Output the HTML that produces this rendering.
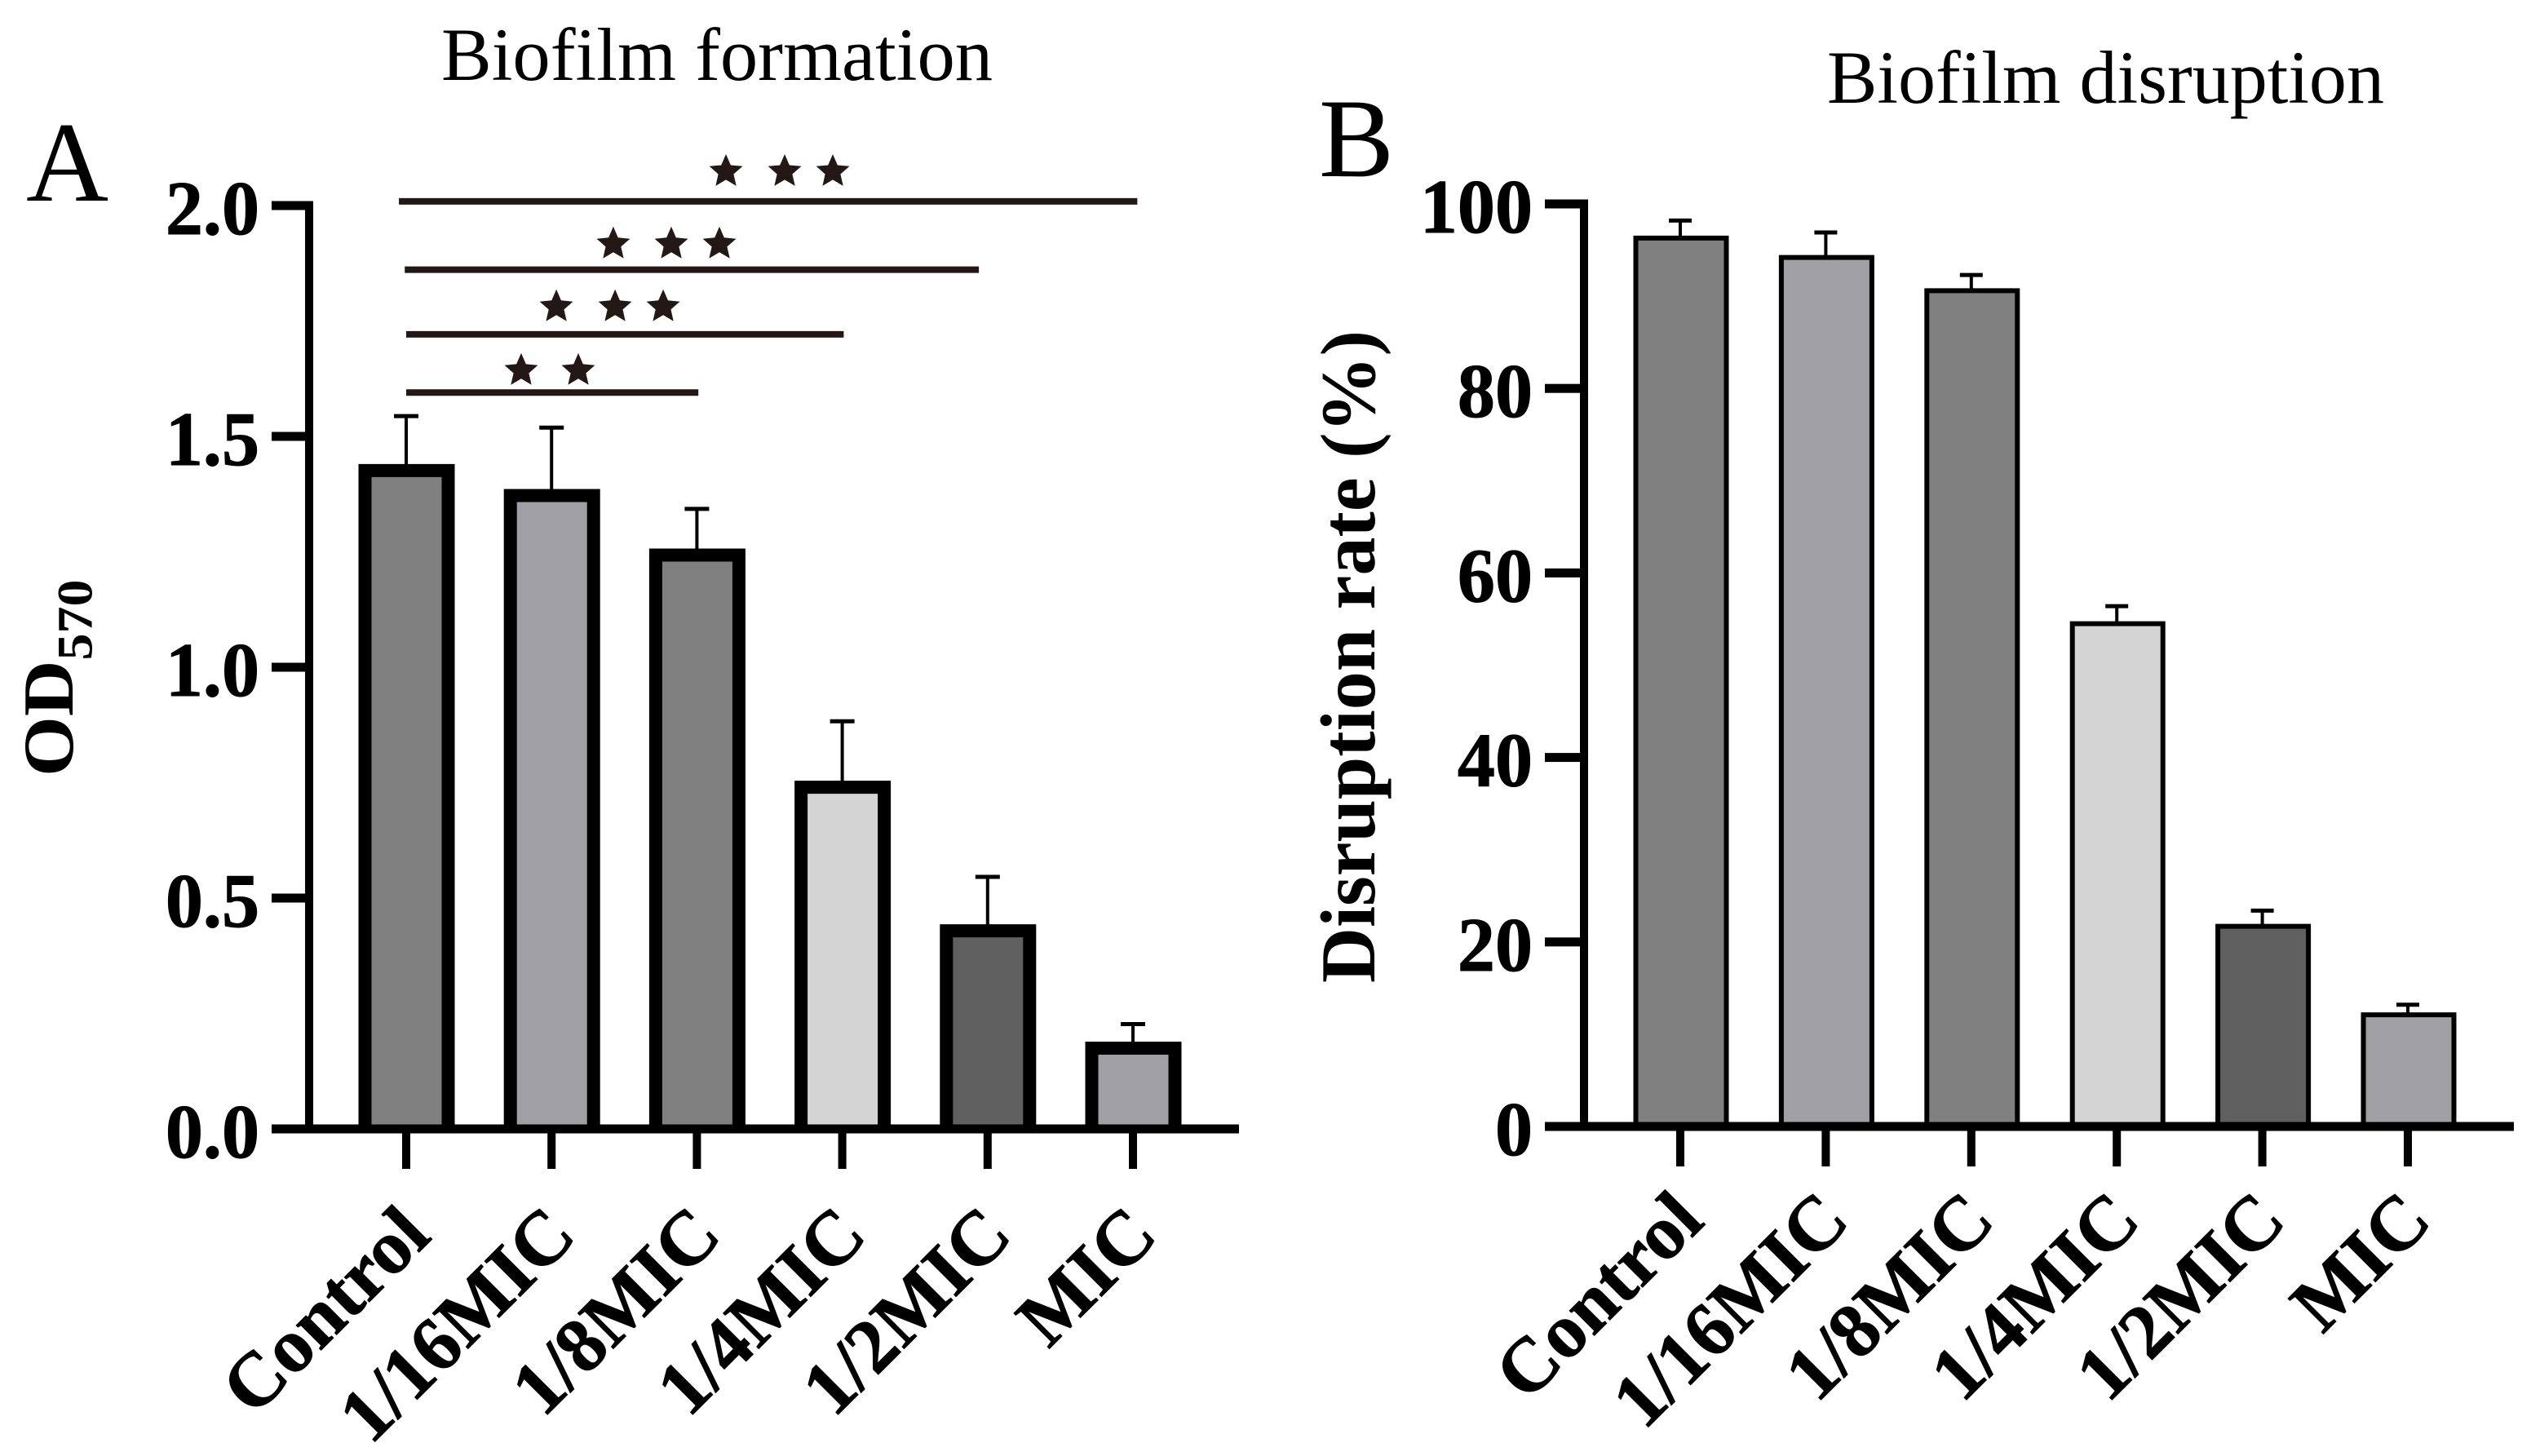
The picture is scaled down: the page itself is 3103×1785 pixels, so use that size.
<!DOCTYPE html>
<html lang="en">
<head>
<meta charset="utf-8">
<title>Biofilm formation and disruption</title>
<style>
  html, body { margin: 0; padding: 0; background: #fff; }
  svg { display: block; }
  text { font-family: "Liberation Serif", "Times New Roman", serif; fill: #000; }
  .bold { font-weight: bold; }
  .heavy { font-weight: bold; stroke: #000; stroke-width: 1; }
</style>
</head>
<body>
<svg id="figure" xmlns="http://www.w3.org/2000/svg" width="3103" height="1785" viewBox="0 0 3103 1785">
  <rect x="0" y="0" width="3103" height="1785" fill="#ffffff"/>
  <text x="541" y="98" font-size="92" textLength="676" lengthAdjust="spacingAndGlyphs">Biofilm formation</text>
  <text x="32" y="246" font-size="140">A</text>
  <text class="bold" transform="translate(89,952) rotate(-90) scale(1,0.93)" font-size="95">OD<tspan font-size="66" dy="25">570</tspan></text>
  <g id="panelA"></g>

  <text x="2240" y="126" font-size="92" textLength="683" lengthAdjust="spacingAndGlyphs">Biofilm disruption</text>
  <text x="1617" y="216" font-size="138">B</text>
  <text class="bold" transform="translate(1685,1205) rotate(-90)" font-size="95" textLength="800" lengthAdjust="spacingAndGlyphs">Disruption rate (%)</text>
  <g id="panelB"></g>
</svg>
<script>
// Shared category data
const categories = ["Control", "1/16MIC", "1/8MIC", "1/4MIC", "1/2MIC", "MIC"];
const barColors = ["#808080", "#a0a0a4", "#808080", "#d4d4d4", "#606060", "#a0a0a4"];

// Panel A: OD570
const valuesA = [1.426, 1.372, 1.243, 0.74, 0.429, 0.175];
const errorsA = [0.118, 0.147, 0.1, 0.143, 0.117, 0.052];
const ticksA = [0, 0.5, 1, 1.5, 2];
const tickLabelsA = ["0.0", "0.5", "1.0", "1.5", "2.0"];

// Panel A significance: line level on the y scale, from/to in category units, star centres
const sigLevels = [2.009, 1.861, 1.721, 1.595];
const sigFrom = [-0.05, -0.01, 0, 0];
const sigTo = [5.03, 3.94, 3.01, 2.01];
const sigStarLevels = [2.076, 1.919, 1.783, 1.645];
const sigStars = [
  [2.2, 2.604, 2.935],
  [1.425, 1.824, 2.155],
  [1.033, 1.437, 1.768],
  [0.791, 1.184]
];

// Panel B: Disruption rate
const valuesB = [96.3, 94.2, 90.6, 54.5, 21.7, 12.1];
const errorsB = [1.9, 2.7, 1.7, 1.9, 1.7, 1.1];
const ticksB = [0, 20, 40, 60, 80, 100];
const tickLabelsB = ["0", "20", "40", "60", "80", "100"];

const NS = "http://www.w3.org/2000/svg";

function make(parent, tag, attrs) {
  const el = document.createElementNS(NS, tag);
  for (const k in attrs) el.setAttribute(k, attrs[k]);
  parent.appendChild(el);
  return el;
}

function drawPanel(g, p, values, errors, ticks, tickLabels, prefix) {
  const x = i => p.x0 + p.step * i;
  const y = v => p.y0 - p.scale * v;

  categories.forEach((c, i) => {
    const top = y(values[i]);
    const errTop = y(values[i] + errors[i]);

    const stem = make(g, "line", { x1: x(i), x2: x(i), y1: top, y2: errTop, stroke: "#000", "stroke-width": 4 });
    
    

    const cap = make(g, "line", { x1: x(i) - p.cap / 2, x2: x(i) + p.cap / 2, y1: errTop, y2: errTop, stroke: "#000", "stroke-width": 5 });
    
    

    const left = x(i) - p.barW / 2 + p.barDx;
    const right = left + p.barW;
    const bar = make(g, "path", {
      d: "M" + left + "," + p.y0 + " V" + top + " H" + right + " V" + p.y0,
      fill: barColors[i], stroke: "#000", "stroke-width": p.barStroke
    });
    
    

    const tick = make(g, "rect", { x: x(i) - 5, y: p.y0, width: 10, height: p.tickBottom - p.y0, fill: "#000" });
    
    

    const label = make(g, "text", {
      class: "heavy", "font-size": p.catFont, "text-anchor": "end",
      transform: "translate(" + (x(i) + p.labelDx) + "," + p.labelY + ") rotate(-45)"
    });
    label.textContent = c;
    
    
  });

  const yAxis = make(g, "rect", { x: p.axisX - 5, y: y(ticks[ticks.length - 1]) - 5.5, width: 10, height: p.y0 - y(ticks[ticks.length - 1]) + 11, fill: "#000" });
  
  

  const xAxis = make(g, "rect", { x: p.tickLeft, y: p.y0 - 5.5, width: p.axisRight - p.tickLeft, height: 11, fill: "#000" });
  
  

  ticks.forEach((t, i) => {
    const tm = make(g, "rect", { x: p.tickLeft, y: y(t) - 5.5, width: p.axisX - p.tickLeft, height: 11, fill: "#000" });
    
    

    const tl = make(g, "text", {
      class: "heavy", "font-size": 94, "text-anchor": "end",
      transform: "translate(" + p.labelRight + "," + (y(t) + 35) + ") scale(0.98,1)"
    });
    tl.textContent = tickLabels[i];
    
    
  });

  return { x, y };
}

function starPoints(cx, cy, r) {
  const pts = [];
  for (let k = 0; k < 10; k++) {
    const rad = k % 2 === 0 ? r : r * 0.46;
    const a = -Math.PI / 2 + k * Math.PI / 5;
    pts.push((cx + rad * Math.cos(a)).toFixed(1) + "," + (cy + 1.5 + rad * Math.sin(a)).toFixed(1));
  }
  return pts.join(" ");
}

const layoutA = {
  x0: 498, step: 178.2, y0: 1384, scale: 566, barW: 102, barStroke: 16, barDx: 0.5, cap: 30,
  axisX: 379, tickLeft: 333, axisRight: 1519, tickBottom: 1433,
  labelRight: 318, labelDx: 33, labelY: 1518, catFont: 94
};
const layoutB = {
  x0: 2060, step: 178.4, y0: 1381, scale: 11.31, barW: 111, barStroke: 6, barDx: 1, cap: 28,
  axisX: 1942, tickLeft: 1894, axisRight: 3082, tickBottom: 1430,
  labelRight: 1879, labelDx: 32, labelY: 1500, catFont: 94
};

const gA = document.getElementById("panelA");
const gB = document.getElementById("panelB");
const axesA = drawPanel(gA, layoutA, valuesA, errorsA, ticksA, tickLabelsA, "panel-a");
drawPanel(gB, layoutB, valuesB, errorsB, ticksB, tickLabelsB, "panel-b");

sigLevels.forEach((lvl, i) => {
  const line = make(gA, "line", {
    x1: axesA.x(sigFrom[i]), x2: axesA.x(sigTo[i]),
    y1: axesA.y(lvl), y2: axesA.y(lvl), stroke: "#231815", "stroke-width": 8
  });
  
  

  sigStars[i].forEach((s, j) => {
    const star = make(gA, "polygon", {
      points: starPoints(axesA.x(s), axesA.y(sigStarLevels[i]), 21.5), fill: "#231815"
    });
    
    
  });
});
</script>
</body>
</html>
